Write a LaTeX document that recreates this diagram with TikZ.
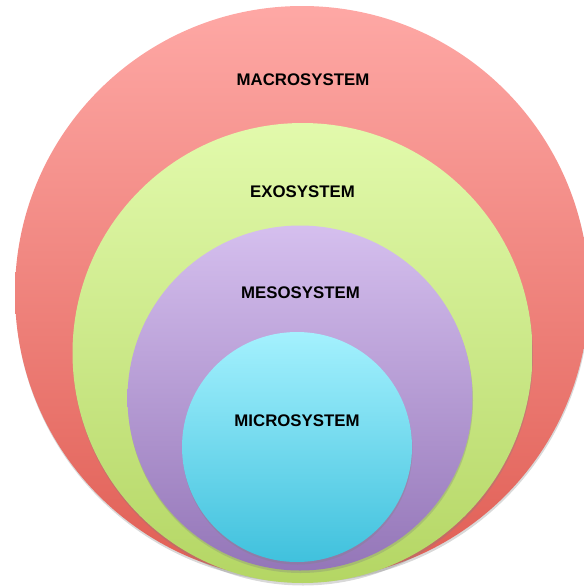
\documentclass[tikz,border=0pt]{standalone}
\usepackage{fontspec}
\setmainfont{Liberation Sans}
\usetikzlibrary{shadows}

\definecolor{macrotop}{RGB}{254,168,165}
\definecolor{macrobot}{RGB}{224,94,84}
\definecolor{exotop}{RGB}{226,250,172}
\definecolor{exobot}{RGB}{180,214,100}
\definecolor{mesotop}{RGB}{213,191,238}
\definecolor{mesobot}{RGB}{148,118,184}
\definecolor{microtop}{RGB}{164,241,254}
\definecolor{microbot}{RGB}{64,193,221}

\tikzset{
  sphere/.style={circle, inner sep=0pt,
    drop shadow={opacity=.3, shadow xshift=.5pt, shadow yshift=-2.5pt}},
  sysname/.style={font=\fontsize{16.8}{16.8}\selectfont\bfseries, text=black, inner sep=0pt}
}

\begin{document}
\begin{tikzpicture}[x=1pt, y=-1pt]
    \useasboundingbox (0,0) rectangle (584,587);
    \clip (0,0) rectangle (584,587);
    \node[sphere, minimum size=574pt, top color=macrotop, bottom color=macrobot] (macro) at (302,293) {};
    \node[sphere, minimum size=460pt, top color=exotop, bottom color=exobot] (exo) at (302.5,353) {};
    \node[sphere, minimum size=345pt, top color=mesotop, bottom color=mesobot] (meso) at (300,398) {};
    \node[sphere, minimum size=230pt, top color=microtop, bottom color=microbot] (micro) at (297,447) {};
    \node[sysname] (macrolabel) at (303,80) {MACROSYSTEM};
    \node[sysname] (exolabel) at (302.5,192) {EXOSYSTEM};
    \node[sysname] (mesolabel) at (300.5,293) {MESOSYSTEM};
    \node[sysname] (microlabel) at (297,421) {MICROSYSTEM};
  \end{tikzpicture}
\end{document}
